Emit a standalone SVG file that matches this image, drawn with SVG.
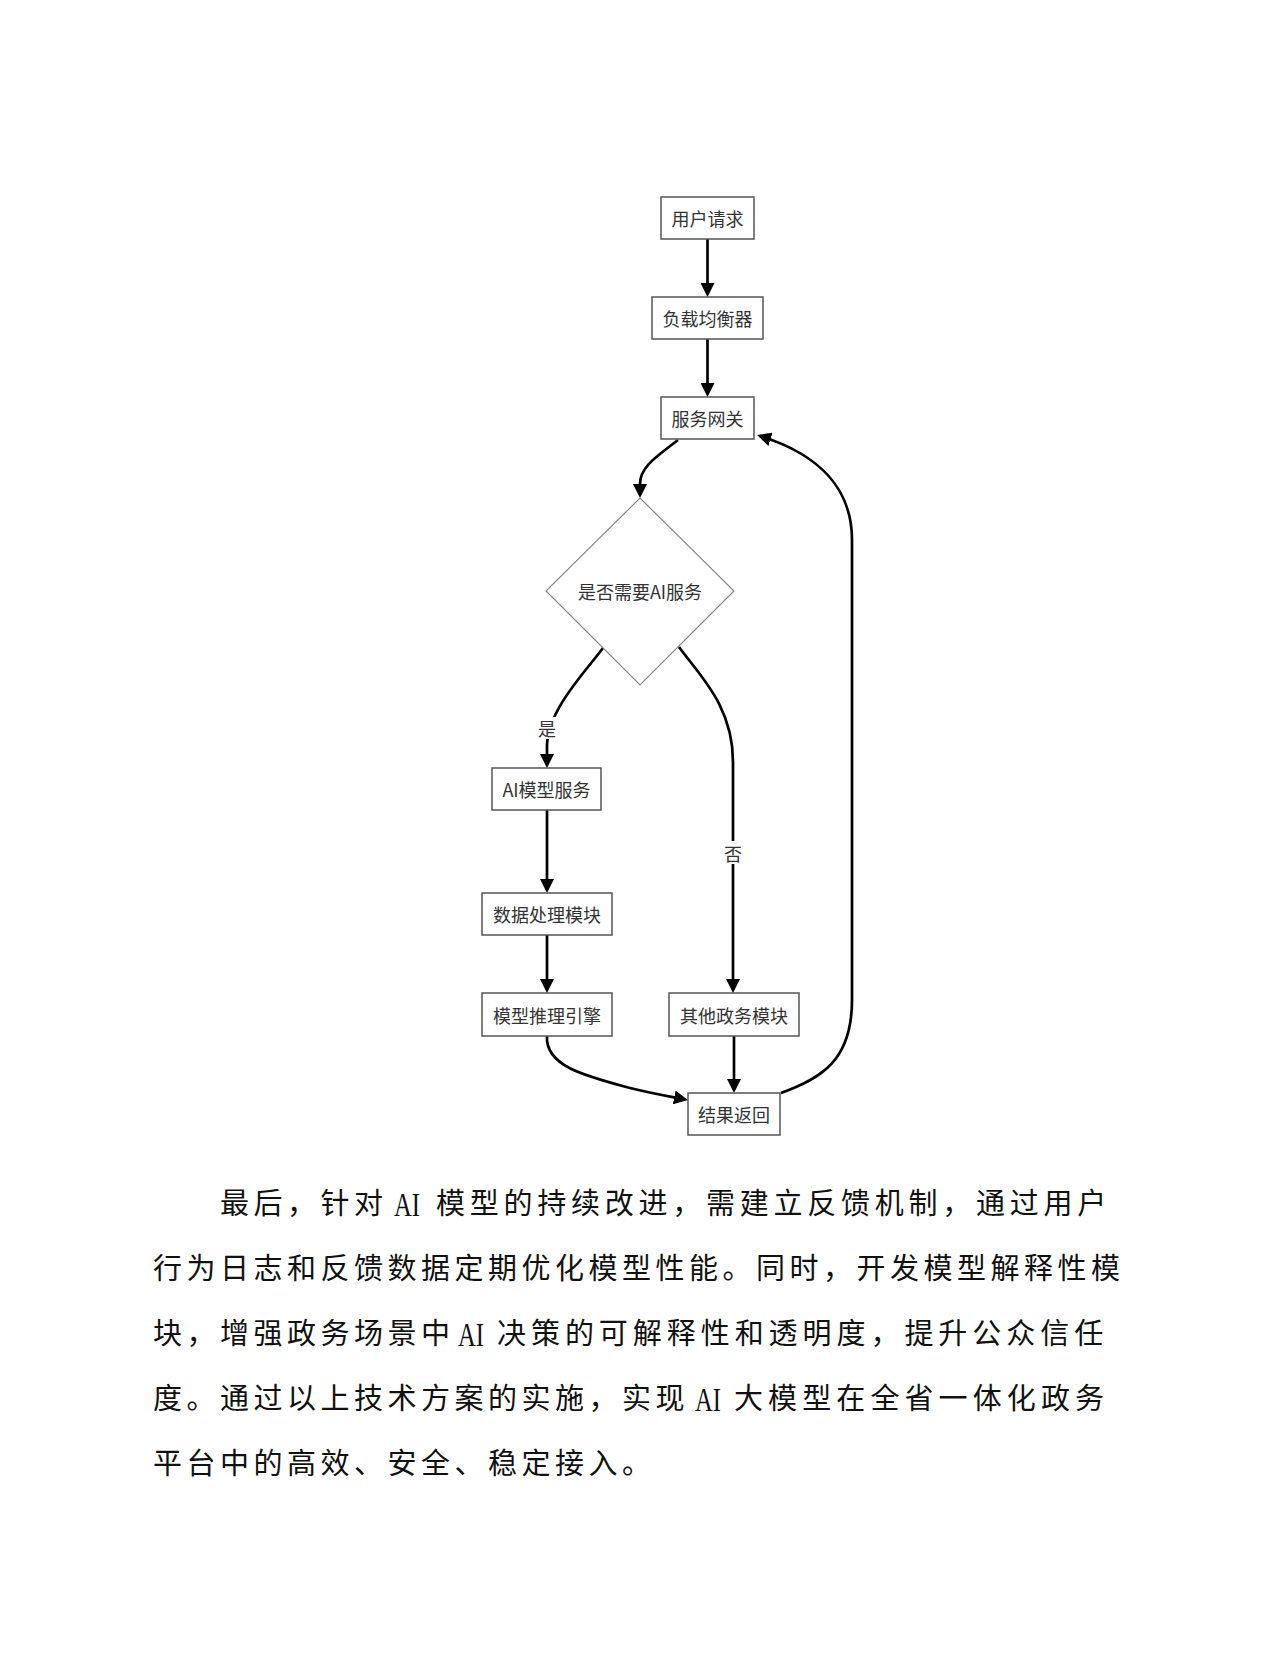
<svg xmlns="http://www.w3.org/2000/svg" width="1280" height="1656" viewBox="0 0 1280 1656">
<style>
.box{fill:#fff;stroke:#555;stroke-width:1.5}
.dia{fill:#fff;stroke:#888;stroke-width:1.2}
.lbl{font-family:"Noto Sans CJK SC","Noto Sans",sans-serif;font-size:18px;fill:#333;text-anchor:middle;dominant-baseline:central}
.edge{fill:none;stroke:#000;stroke-width:2.7}
.elbl{font-family:"Noto Sans CJK SC","Noto Sans",sans-serif;font-size:18px;fill:#333;text-anchor:middle;dominant-baseline:central}
.body{font-family:"Noto Sans CJK SC","Noto Sans",sans-serif;font-size:29px;letter-spacing:4.5px;fill:#111}
.lat{font-family:"Liberation Serif","Noto Sans CJK SC",serif;font-size:34px;fill:#111}
</style>
<defs>
<marker id="arr" viewBox="0 0 14 14" markerUnits="userSpaceOnUse" markerWidth="14" markerHeight="14" refX="11" refY="7" orient="auto">
<path d="M0,0 L14,7 L0,14 z" fill="#000"/>
</marker>
</defs>
<rect width="1280" height="1656" fill="#fff"/>
<g id="connectors">
<path class="edge" marker-end="url(#arr)" d="M707.5,239 L707.5,294"/>
<path class="edge" marker-end="url(#arr)" d="M707.5,339 L707.5,394"/>
<path class="edge" marker-end="url(#arr)" d="M678,440 C656,457 640,467 640,484 L640,495"/>
<path class="edge" marker-end="url(#arr)" d="M603,648 C585,672 548,710 547,745 L547,765"/>
<path class="edge" marker-end="url(#arr)" d="M679,647 C700,676 733,706 733,762 L733,990"/>
<path class="edge" marker-end="url(#arr)" d="M547,810 L547,890"/>
<path class="edge" marker-end="url(#arr)" d="M547,935 L547,990"/>
<path class="edge" marker-end="url(#arr)" d="M547,1036 C545,1066 585,1076 630,1088 C650,1093 667,1096 685,1099.5"/>
<path class="edge" marker-end="url(#arr)" d="M734,1036 L734,1090"/>
<path class="edge" marker-end="url(#arr)" d="M781,1093 C822,1078 852,1060 852,1000 L852,540 C852,488 818,454 760,436"/>
<rect x="537" y="717" width="20" height="22" fill="#fff"/>
<text class="elbl" x="547" y="728">是</text>
<rect x="723" y="841" width="20" height="23" fill="#fff"/>
<text class="elbl" x="733" y="853">否</text>
</g>
<g id="n1"><rect class="box" x="661" y="197" width="93" height="42"/><text class="lbl" x="707.5" y="218">用户请求</text></g>
<g id="n2"><rect class="box" x="652" y="297" width="111" height="42"/><text class="lbl" x="707.5" y="318">负载均衡器</text></g>
<g id="n3"><rect class="box" x="661" y="397" width="93" height="42"/><text class="lbl" x="707.5" y="418">服务网关</text></g>
<g id="n4"><polygon class="dia" points="640,498 734,591 640,685 546,591"/><text class="lbl" x="640" y="591">是否需要AI服务</text></g>
<g id="n5"><rect class="box" x="492" y="768" width="109" height="42"/><text class="lbl" x="546.5" y="789">AI模型服务</text></g>
<g id="n6"><rect class="box" x="482" y="893" width="130" height="42"/><text class="lbl" x="547" y="914">数据处理模块</text></g>
<g id="n7"><rect class="box" x="482" y="993" width="130" height="43"/><text class="lbl" x="547" y="1014.5">模型推理引擎</text></g>
<g id="n8"><rect class="box" x="669" y="993" width="130" height="43"/><text class="lbl" x="734" y="1014.5">其他政务模块</text></g>
<g id="n9"><rect class="box" x="688" y="1093" width="92" height="42"/><text class="lbl" x="734" y="1114">结果返回</text></g>
<g id="body">
<text class="body" x="220" y="1214">最后，针对</text>
<text class="lat" x="394" y="1216" textLength="26" lengthAdjust="spacingAndGlyphs">AI</text>
<text class="body" x="436" y="1214" style="letter-spacing:4.75px">模型的持续改进，需建立反馈机制，通过用户</text>
<text class="body" x="153" y="1279">行为日志和反馈数据定期优化模型性能。同时，开发模型解释性模</text>
<text class="body" x="153" y="1344">块，增强政务场景中</text>
<text class="lat" x="458" y="1346" textLength="26" lengthAdjust="spacingAndGlyphs">AI</text>
<text class="body" x="497" y="1344" style="letter-spacing:4.95px">决策的可解释性和透明度，提升公众信任</text>
<text class="body" x="153" y="1409">度。通过以上技术方案的实施，实现</text>
<text class="lat" x="695" y="1411" textLength="26" lengthAdjust="spacingAndGlyphs">AI</text>
<text class="body" x="734" y="1409" style="letter-spacing:5.1px">大模型在全省一体化政务</text>
<text class="body" x="153" y="1474">平台中的高效、安全、稳定接入。</text>
</g>
</svg>
